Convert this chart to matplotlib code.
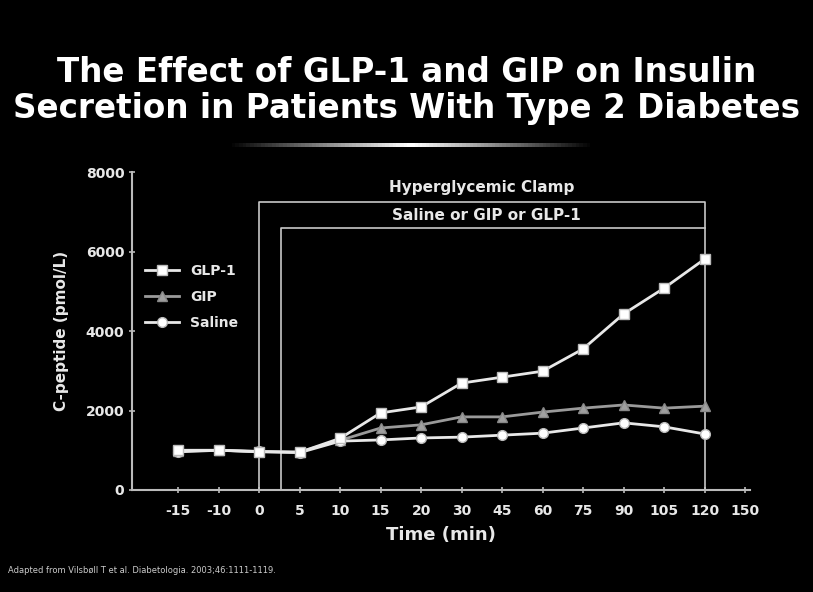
import numpy as np
import matplotlib.pyplot as plt

times = ['-15', '-10', '0', '5', '10', '15', '20', '30', '45', '60', '75', '90', '105', '120', '150']
glp1 = [1000, 1000, 960, 950, 1300, 1940, 2090, 2690, 2840, 2990, 3550, 4430, 5080, 5810]
gip = [980, 1000, 970, 960, 1250, 1560, 1640, 1840, 1840, 1960, 2060, 2140, 2060, 2110]
saline = [960, 1000, 970, 940, 1230, 1260, 1310, 1330, 1380, 1430, 1560, 1690, 1590, 1410]
y_ticks = [0, 2000, 4000, 6000, 8000]

fg = '#e8e8e8'
fig = plt.figure(figsize=(8.13, 5.92), dpi=100, facecolor='black')
ax = fig.add_axes([0.1624, 0.1723, 0.760, 0.537], facecolor='black')

x = np.arange(len(glp1))
ax.plot(x, glp1, color=fg, lw=2, marker='s', ms=7, mfc='white', mec='#bbbbbb', label='GLP-1', zorder=4)
ax.plot(x, gip, color='#9a9a9a', lw=2, marker='^', ms=7, mfc='#a0a0a0', mec='#888888', label='GIP', zorder=3)
ax.plot(x, saline, color=fg, lw=2, marker='o', ms=7, mfc='white', mec='#bbbbbb', label='Saline', zorder=3)

# clamp boxes
ax.plot([2, 2, 13, 13], [0, 7250, 7250, 0], color='#c8c8c8', lw=1.2, zorder=2)
ax.plot([2.55, 2.55, 13], [0, 6590, 6590], color='#c8c8c8', lw=1.2, zorder=2)
ax.text(7.5, 7600, 'Hyperglycemic Clamp', color=fg, ha='center', va='center', fontsize=11, fontweight='bold')
ax.text(7.6, 6900, 'Saline or GIP or GLP-1', color=fg, ha='center', va='center', fontsize=11, fontweight='bold')

ax.set_xlim(-1.14, 14.12)
ax.set_ylim(0, 8000)
ax.set_xticks(np.arange(len(times)))
ax.set_xticklabels(times)
ax.set_yticks(y_ticks)
for s in ['top', 'right']:
    ax.spines[s].set_visible(False)
for s in ['left', 'bottom']:
    ax.spines[s].set_color('#bbbbbb')
    ax.spines[s].set_linewidth(1.5)
ax.tick_params(colors='#bbbbbb', length=4, width=1.2, direction='inout')
for lab in ax.get_xticklabels() + ax.get_yticklabels():
    lab.set_color(fg)
    lab.set_fontweight('bold')
    lab.set_fontsize(10)
ax.tick_params(axis='x', pad=8)
ax.set_xlabel('Time (min)', color=fg, fontsize=13, fontweight='bold', labelpad=6)
ax.set_ylabel('C-peptide (pmol/L)', color=fg, fontsize=11, fontweight='bold', labelpad=12)

leg = ax.legend(loc='upper left', bbox_to_anchor=(0.0, 0.75), frameon=False, fontsize=10,
                handlelength=2.5, labelspacing=0.85)
for t in leg.get_texts():
    t.set_color(fg)
    t.set_fontweight('bold')

fig.text(0.5, 0.878, 'The Effect of GLP-1 and GIP on Insulin', color='white', ha='center', va='center',
         fontsize=23.5, fontweight='bold')
fig.text(0.5, 0.816, 'Secretion in Patients With Type 2 Diabetes', color='white', ha='center', va='center',
         fontsize=23.5, fontweight='bold')
# divider line under the title
grad = np.concatenate([np.linspace(0, 1, 50), np.linspace(1, 0, 50)])
lax = fig.add_axes([0.28, 0.752, 0.45, 0.006])
lax.imshow(grad[None, :], aspect='auto', cmap='gray', vmin=0, vmax=1)
lax.axis('off')

fig.text(0.01, 0.037, 'Adapted from Vilsbøll T et al. Diabetologia. 2003;46:1111-1119.', color='#cccccc',
         fontsize=6, ha='left', va='center')

fig.savefig('out.png', dpi=100, facecolor='black')
